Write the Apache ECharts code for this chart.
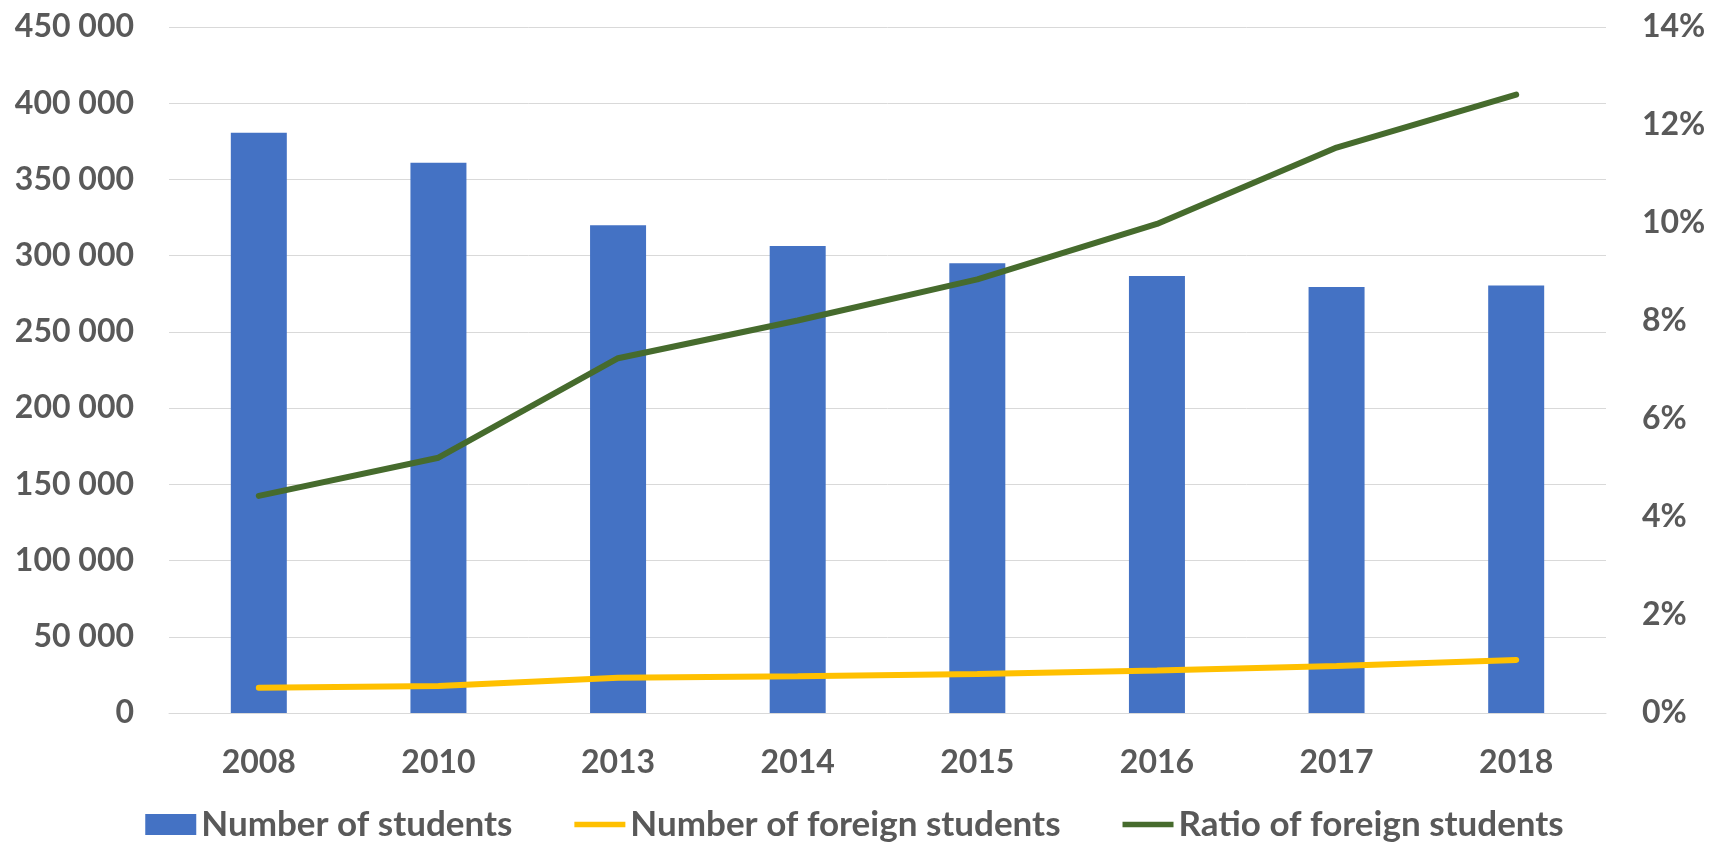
<!DOCTYPE html>
<html>
<head>
<meta charset="utf-8">
<script src="https://cdn.jsdelivr.net/npm/echarts@6/dist/echarts.min.js"></script>
<style>
  html, body { margin: 0; padding: 0; background: #fff; }
  #main { width: 1709px; height: 842px; }
</style>
</head>
<body>
<div id="main"></div>
<script>
// years on the x axis
const years = ['2008', '2010', '2013', '2014', '2015', '2016', '2017', '2018'];
// total students (left axis)
const students = [380700, 361000, 320000, 306300, 295000, 286700, 279500, 280500];
// foreign students (left axis)
const foreignStudents = [16600, 17700, 23200, 24100, 25600, 27800, 30800, 34800];
// share of foreign students, % (right axis)
const foreignRatio = [4.43, 5.21, 7.24, 8.01, 8.85, 9.98, 11.54, 12.62];

const labelColor = '#595959';
const font = 'Lato';
const lineIcon = 'path://M0,0L55,0L55,6L0,6Z';

// 450000 -> "450 000"
function spaced(v) {
  return String(v).replace(/\B(?=(\d{3})+(?!\d))/g, ' ');
}

const chart = echarts.init(document.getElementById('main'), null, { renderer: 'canvas' });

const option = {
  animation: false,
  textStyle: { fontFamily: font },
  grid: { left: 169, right: 103, top: 27, bottom: 129 },
  legend: {
    left: 'center',
    top: 802,
    itemWidth: 51,
    itemHeight: 21,
    itemGap: 62,
    textStyle: { color: labelColor, fontSize: 35, fontWeight: 'bold', fontFamily: font },
    data: [
      { name: 'Number of students', icon: 'rect' },
      { name: 'Number of foreign students', icon: lineIcon },
      { name: 'Ratio of foreign students', icon: lineIcon }
    ]
  },
  xAxis: {
    type: 'category',
    data: years,
    axisTick: { show: false },
    axisLine: { lineStyle: { color: '#D9D9D9', width: 1 } },
    axisLabel: { color: labelColor, fontSize: 32, fontWeight: 'bold', margin: 34 }
  },
  yAxis: [
    {
      type: 'value',
      min: 0,
      max: 450000,
      interval: 50000,
      axisLine: { show: false },
      axisTick: { show: false },
      splitLine: { lineStyle: { color: '#D9D9D9', width: 1 } },
      axisLabel: { color: labelColor, fontSize: 32, fontWeight: 'bold', margin: 35, formatter: spaced }
    },
    {
      type: 'value',
      min: 0,
      max: 14,
      interval: 2,
      axisLine: { show: false },
      axisTick: { show: false },
      splitLine: { show: false },
      axisLabel: { color: labelColor, fontSize: 32, fontWeight: 'bold', margin: 36, formatter: '{value}%' }
    }
  ],
  series: [
    {
      name: 'Number of students',
      type: 'bar',
      data: students,
      barWidth: 56,
      itemStyle: { color: '#4472C4' }
    },
    {
      name: 'Number of foreign students',
      type: 'line',
      data: foreignStudents,
      symbol: 'none',
      lineStyle: { color: '#FFC000', width: 6, cap: 'round' },
      itemStyle: { color: '#FFC000' }
    },
    {
      name: 'Ratio of foreign students',
      type: 'line',
      yAxisIndex: 1,
      data: foreignRatio,
      symbol: 'none',
      lineStyle: { color: '#466B2D', width: 6, cap: 'round' },
      itemStyle: { color: '#466B2D' }
    }
  ]
};

chart.setOption(option);
</script>
</body>
</html>
